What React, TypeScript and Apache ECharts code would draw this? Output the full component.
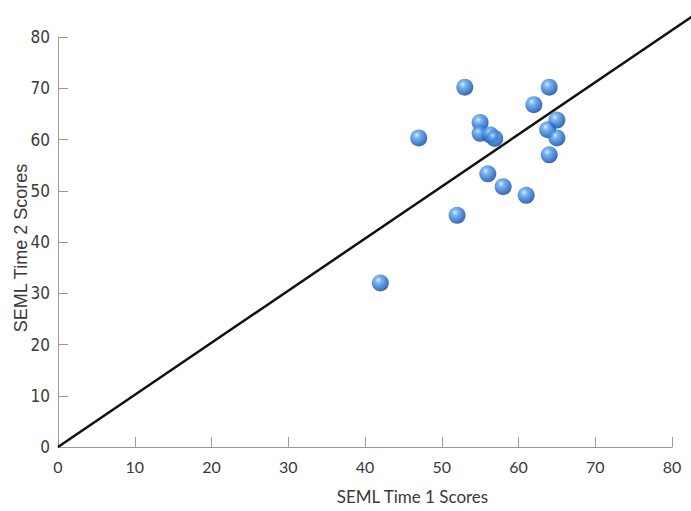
import React, { useEffect, useRef } from "react";
import * as echarts from "echarts";

const xTime1 = [42, 47, 52, 53, 55, 55, 56.3, 56.9, 56, 58, 61, 62, 64, 65, 63.8, 65, 64];
const yTime2 = [32, 60.3, 45.2, 70.2, 63.3, 61.2, 60.9, 60.2, 53.3, 50.8, 49.1, 66.8, 70.2, 63.8, 61.9, 60.3, 57];
const refStart = [0, 0];
const refEnd = [90, 91.5];
const xTitle = "SEML Time 1 Scores";
const yTitle = "SEML Time 2 Scores";

export default function App() {
  const ref = useRef<HTMLDivElement>(null);
  useEffect(() => {
    if (!ref.current) return;
    const chart = echarts.init(ref.current, null, { renderer: "svg" });
    const sphere = new echarts.graphic.RadialGradient(0.38, 0.33, 0.7, [
      { offset: 0, color: "#d6ecff" },
      { offset: 0.25, color: "#5aa4ee" },
      { offset: 0.7, color: "#1e66c8" },
      { offset: 1, color: "#0e3d8a" },
    ]);
    chart.setOption({
      animation: false,
      backgroundColor: "#ffffff",
      grid: { left: 58, right: 19, top: 37, bottom: 64, containLabel: false },
      xAxis: {
        type: "value",
        min: 0,
        max: 80,
        interval: 10,
        name: xTitle,
        nameLocation: "middle",
        nameGap: 41,
        nameMoveOverlap: false,
        nameTextStyle: { fontFamily: "Lato", fontSize: 17, color: "#3a3a3a", padding: [0, 0, 0, 95] },
        axisLine: { show: true, lineStyle: { color: "#9a9a9a", width: 1 } },
        axisTick: { show: true, inside: true, length: 10, lineStyle: { color: "#9a9a9a" } },
        axisLabel: { fontFamily: "Lato", fontSize: 16, color: "#3a3a3a", margin: 11 },
        splitLine: { show: false },
      },
      yAxis: {
        type: "value",
        min: 0,
        max: 80,
        interval: 10,
        name: yTitle,
        nameLocation: "middle",
        nameGap: 28,
        nameMoveOverlap: false,
        nameTextStyle: { fontFamily: "Liberation Sans", fontSize: 18, color: "#3a3a3a", padding: [0, 12, 0, 0] },
        axisLine: { show: true, lineStyle: { color: "#9a9a9a", width: 1 } },
        axisTick: { show: true, inside: true, length: 10, lineStyle: { color: "#9a9a9a" } },
        axisLabel: {
          fontFamily: "Liberation Sans Narrow, DejaVu Sans Condensed, sans-serif",
          fontSize: 17,
          color: "#3a3a3a",
          margin: 8,
        },
        splitLine: { show: false },
      },
      series: [
        {
          type: "scatter",
          data: xTime1.map((x, i) => [x, yTime2[i]]),
          symbolSize: 17,
          itemStyle: { color: sphere },
          z: 3,
        },
      ],
    });
    const p0 = chart.convertToPixel({ gridIndex: 0 }, refStart);
    const p1 = chart.convertToPixel({ gridIndex: 0 }, refEnd);
    chart.setOption({
      graphic: [
        {
          type: "line",
          z: 1,
          shape: { x1: p0[0], y1: p0[1], x2: p1[0], y2: p1[1] },
          style: { stroke: "#111", lineWidth: 2.5 },
        },
      ],
    });
    return () => chart.dispose();
  }, []);
  return <div ref={ref} style={{ position: "fixed", left: 0, top: 0, width: 691, height: 511 }} />;
}
